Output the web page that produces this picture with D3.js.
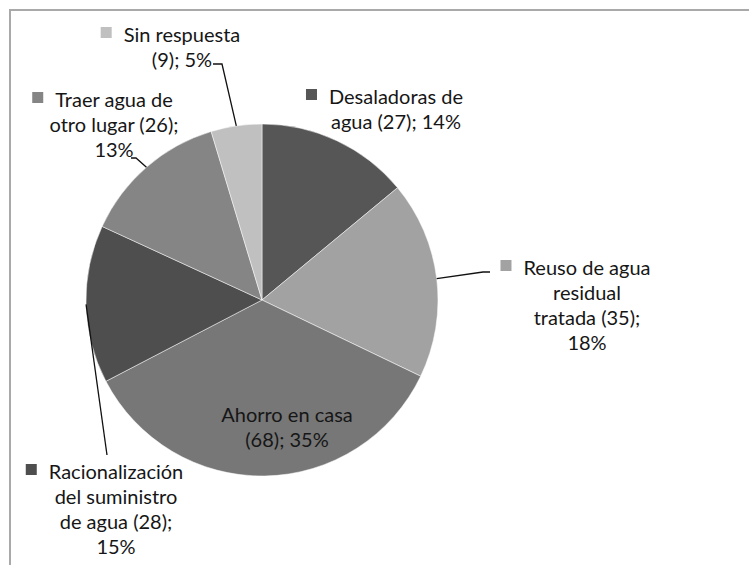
<!DOCTYPE html>
<html>
<head>
  <meta charset="utf-8">
  <script src="https://d3js.org/d3.v7.min.js"></script>
  <style>
    body { margin: 0; background: #fff; }
    svg text { font-family: Lato, "Open Sans", sans-serif; font-size: 20px; fill: #161616; }
  </style>
</head>
<body>
<script>
  // chart data
  var categories = ["Desaladoras de agua", "Reuso de agua residual tratada", "Ahorro en casa",
                    "Racionalización del suministro de agua", "Traer agua de otro lugar", "Sin respuesta"];
  var counts   = [27, 35, 68, 28, 26, 9];
  var percents = [14, 18, 35, 15, 13, 5];
  var colors   = ["#565656", "#a2a2a2", "#777777", "#4e4e4e", "#858585", "#c0c0c0"];

  // how many words go on each line of a label
  var wordsPerLine = [[2, 3], [3, 1, 2, 1], [3, 2], [1, 2, 3, 1], [3, 3, 1], [2, 2]];

  // label layout: centre x, first baseline, key square, leader (label side)
  var layout = [
    {x: 396, y: 104, key: true,  leader: null},
    {x: 587, y: 275, key: true,  leader: [[490, 272], [483, 272]]},
    {x: 287, y: 422, key: false, leader: null},
    {x: 116, y: 479, key: true,  leader: [[107, 455]]},
    {x: 114, y: 107, key: true,  leader: [[131, 158], [136, 158]]},
    {x: 182, y: 42,  key: true,  leader: [[213, 64], [222, 64]]}
  ];

  var width = 749, height = 565,
      cx = 262, cy = 300, radius = 176, lineH = 25;

  var svg = d3.select("body").append("svg")
    .attr("width", width)
    .attr("height", height);

  // frame (only top and left edges show)
  svg.append("path")
    .attr("d", "M10,565 L10,10 L749,10")
    .attr("fill", "none")
    .attr("stroke", "#a9a9a9")
    .attr("stroke-width", 2);

  var pie = d3.pie().sort(null).value(function(d) { return d; });
  var arcs = pie(counts);
  var arc = d3.arc().innerRadius(0).outerRadius(radius);
  var edge = d3.arc().innerRadius(radius).outerRadius(radius);

  var g = svg.append("g").attr("transform", "translate(" + cx + "," + cy + ")");

  g.selectAll("path.slice")
    .data(arcs)
    .enter().append("path")
    .attr("class", "slice")
    .attr("d", arc)
    .attr("fill", function(d, i) { return colors[i]; })
    .attr("stroke", "#fff")
    .attr("stroke-width", 0.5);

  // leader lines
  arcs.forEach(function(d, i) {
    var L = layout[i];
    if (!L.leader) return;
    var c = edge.centroid(d);
    var pts = L.leader.concat([[c[0] + cx, c[1] + cy]]);
    svg.append("path")
      .attr("d", d3.line()(pts))
      .attr("fill", "none")
      .attr("stroke", "#111")
      .attr("stroke-width", 1.3);
  });

  // labels
  categories.forEach(function(cat, i) {
    var words = (cat + " (" + counts[i] + "); " + percents[i] + "%").split(" ");
    var lines = [], k = 0;
    wordsPerLine[i].forEach(function(n) {
      lines.push(words.slice(k, k + n).join(" "));
      k += n;
    });
    var L = layout[i];
    var t = svg.append("text").attr("text-anchor", "middle");
    lines.forEach(function(s, j) {
      t.append("tspan").attr("x", L.x).attr("y", L.y + j * lineH).text(s);
    });
    if (L.key) {
      var w = t.select("tspan").node().getComputedTextLength();
      svg.append("rect")
        .attr("x", L.x - w / 2 - 23)
        .attr("y", L.y - 15)
        .attr("width", 11)
        .attr("height", 11)
        .attr("fill", colors[i]);
    }
  });
</script>
</body>
</html>
